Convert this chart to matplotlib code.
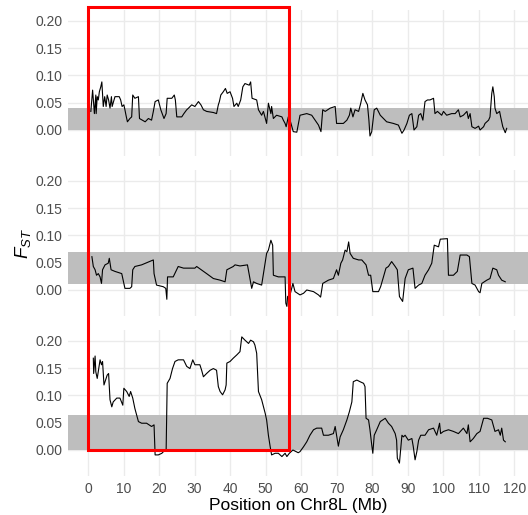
import matplotlib
matplotlib.use("Agg")
import matplotlib.pyplot as plt
from matplotlib.patches import Rectangle

plt.rcParams['font.family'] = ['Liberation Sans', 'DejaVu Sans']
plt.rcParams['mathtext.fontset'] = 'custom'
plt.rcParams['mathtext.it'] = 'Liberation Sans:italic'
plt.rcParams['mathtext.rm'] = 'Liberation Sans'

# ---- data (Mb, FST) ----
pos1 = [0.8, 1.3, 1.8, 2.2, 2.3, 2.6, 2.9, 3.2, 3.6, 3.9, 4.3, 4.7, 5.1, 5.4, 5.8, 6.2, 6.6, 6.8, 7.6, 8.8,
        9.2, 9.6, 10.1, 10.4, 10.7, 11.1, 11.8, 12.3, 12.6, 13.2, 14.2, 14.5, 16.1, 17.0, 17.9, 18.4, 18.9, 19.8,
        20.5, 21.4, 22.0, 22.3, 23.6, 24.3, 24.6, 25.0, 26.4, 27.0, 27.8, 28.3, 29.2, 30.1, 31.1, 31.8, 32.5,
        33.4, 35.3, 36.2, 36.7, 37.0, 37.4, 38.1, 38.7, 39.2, 40.0, 40.7, 41.1, 41.9, 42.3, 43.0, 43.6, 44.2,
        45.4, 45.8, 46.2, 47.5, 48.0, 48.9, 49.4, 50.3, 50.8, 51.5, 51.7, 52.2, 53.1, 54.6, 55.0, 55.5, 55.8,
        56.4, 56.9, 57.8, 58.8, 59.7, 61.6, 63.0, 64.9, 65.6, 66.1, 66.8, 68.2, 69.6, 70.0, 71.9, 72.9, 73.6,
        74.0, 74.6, 75.2, 76.2, 76.8, 77.4, 78.0, 78.7, 79.1, 79.4, 79.9, 80.6, 81.3, 82.3, 83.2, 84.1, 86.0,
        87.4, 88.4, 89.0, 89.8, 90.5, 91.2, 91.8, 92.6, 93.1, 93.7, 94.3, 94.9, 95.6, 96.3, 97.3, 97.7, 98.4,
        99.6, 100.1, 101.0, 102.4, 103.4, 104.3, 104.8, 105.7, 106.7, 107.1, 107.6, 108.1, 109.0, 110.0, 110.4,
        111.4, 111.8, 112.8, 113.2, 113.7, 114.0, 114.4, 114.6, 115.1, 115.9, 116.2, 116.8, 117.5, 117.9]
fst1 = [0.034, 0.073, 0.030, 0.064, 0.030, 0.061, 0.055, 0.070, 0.079, 0.088, 0.043, 0.061, 0.043, 0.064, 0.055,
        0.040, 0.061, 0.043, 0.061, 0.061, 0.055, 0.043, 0.046, 0.037, 0.027, 0.015, 0.021, 0.024, 0.064, 0.058,
        0.061, 0.021, 0.015, 0.021, 0.018, 0.034, 0.052, 0.055, 0.037, 0.021, 0.030, 0.058, 0.058, 0.064, 0.055,
        0.024, 0.024, 0.030, 0.037, 0.040, 0.046, 0.043, 0.052, 0.046, 0.037, 0.034, 0.032, 0.030, 0.046, 0.052,
        0.064, 0.070, 0.076, 0.067, 0.070, 0.058, 0.043, 0.049, 0.043, 0.055, 0.079, 0.085, 0.082, 0.088, 0.058,
        0.055, 0.037, 0.027, 0.034, 0.012, 0.049, 0.030, 0.043, 0.021, 0.027, 0.024, 0.018, 0.012, 0.006, 0.024,
        0.018, -0.003, -0.004, 0.027, 0.030, 0.027, 0.009, -0.003, 0.037, 0.034, 0.040, 0.043, 0.012, 0.012,
        0.018, 0.027, 0.040, 0.024, 0.037, 0.034, 0.049, 0.067, 0.055, 0.046, 0.018, -0.011, -0.003, 0.037,
        0.040, 0.027, 0.021, 0.015, 0.012, 0.009, -0.006, 0.000, 0.012, 0.027, 0.030, 0.000, 0.006, 0.027, 0.030,
        0.018, 0.052, 0.055, 0.055, 0.058, 0.030, 0.034, 0.027, 0.034, 0.027, 0.030, 0.030, 0.037, 0.024, 0.027,
        0.034, 0.021, 0.030, 0.006, 0.003, 0.007, 0.000, 0.006, 0.012, 0.018, 0.024, 0.067, 0.079, 0.061, 0.040,
        0.030, 0.034, 0.024, 0.006, -0.005, 0.003]

pos2 = [1.1, 1.5, 2.0, 2.4, 2.9, 3.4, 3.8, 4.1, 4.8, 5.7, 6.0, 6.5, 7.6, 9.5, 10.4, 11.8, 12.3, 12.6, 13.2, 15.1,
        18.4, 18.6, 19.3, 21.2, 21.9, 22.2, 22.4, 24.0, 25.4, 26.9, 30.1, 30.6, 33.4, 35.3, 37.2, 38.6, 39.1,
        40.9, 41.4, 42.8, 44.9, 46.1, 46.6, 47.5, 48.9, 50.3, 50.8, 51.5, 52.0, 52.2, 53.6, 55.5, 55.7, 56.0,
        56.2, 56.9, 57.7, 58.3, 59.7, 60.7, 61.6, 63.5, 64.9, 65.5, 66.1, 67.7, 69.1, 70.0, 70.5, 71.2, 71.7,
        72.4, 72.9, 73.4, 73.8, 74.7, 76.2, 77.1, 78.3, 79.0, 79.6, 80.2, 81.8, 82.4, 83.2, 83.9, 84.6, 85.5,
        86.5, 87.1, 87.7, 88.6, 89.3, 90.2, 91.5, 92.1, 93.1, 94.0, 94.9, 95.9, 96.8, 97.5, 98.7, 99.2, 101.2,
        101.5, 102.9, 104.0, 104.8, 106.7, 107.4, 108.1, 109.0, 110.0, 110.4, 110.9, 112.3, 113.2, 114.0,
        115.1, 115.6, 116.5, 117.5]
fst2 = [0.061, 0.043, 0.037, 0.027, 0.030, 0.024, 0.012, 0.037, 0.046, 0.049, 0.058, 0.037, 0.034, 0.030, 0.003,
        0.003, 0.006, 0.037, 0.043, 0.046, 0.055, 0.030, 0.009, 0.006, 0.003, -0.017, 0.024, 0.024, 0.043, 0.040,
        0.040, 0.043, 0.030, 0.021, 0.018, 0.015, 0.037, 0.043, 0.046, 0.044, 0.046, 0.003, 0.015, 0.012, 0.009,
        0.067, 0.073, 0.091, 0.082, 0.027, 0.024, 0.024, -0.024, -0.030, -0.012, -0.009, 0.012, -0.003, -0.009,
        -0.006, 0.000, -0.003, -0.009, -0.013, 0.012, 0.018, 0.021, 0.037, 0.027, 0.049, 0.055, 0.073, 0.070,
        0.088, 0.067, 0.058, 0.055, 0.055, 0.046, 0.027, 0.027, -0.003, -0.003, 0.006, 0.024, 0.040, 0.043,
        0.052, 0.043, 0.037, -0.012, -0.021, 0.021, 0.037, 0.040, 0.003, 0.009, 0.012, 0.027, 0.037, 0.049,
        0.082, 0.079, 0.093, 0.094, 0.027, 0.027, 0.034, 0.064, 0.064, 0.061, 0.012, 0.009, -0.003, -0.005,
        0.012, 0.018, 0.021, 0.040, 0.037, 0.027, 0.018, 0.015]

pos3 = [1.5, 1.6, 2.0, 2.2, 2.6, 3.4, 3.8, 4.1, 4.5, 5.1, 5.4, 5.8, 6.2, 6.7, 7.1, 8.1, 9.0, 9.8, 10.1, 10.9,
        11.6, 12.0, 12.6, 13.0, 13.2, 13.7, 14.2, 15.1, 16.5, 17.9, 18.6, 18.9, 19.8, 20.8, 21.4, 22.0, 22.3,
        23.1, 23.8, 24.5, 25.4, 26.9, 27.8, 28.7, 29.5, 30.1, 31.5, 32.0, 32.5, 33.4, 34.4, 35.3, 36.2, 36.7,
        37.2, 37.9, 38.6, 38.9, 39.1, 40.0, 40.9, 41.9, 42.8, 43.3, 44.2, 45.2, 45.8, 46.6, 47.0, 47.5, 48.0,
        48.9, 49.9, 50.3, 50.8, 51.3, 51.7, 52.7, 53.6, 54.6, 55.5, 56.0, 56.7, 57.7, 58.6, 59.2, 59.7, 60.7,
        61.6, 62.5, 63.5, 64.4, 65.8, 66.3, 67.7, 69.1, 69.6, 70.0, 70.5, 71.0, 71.9, 72.9, 73.6, 74.3, 74.7,
        75.7, 76.6, 77.6, 78.0, 78.3, 79.0, 79.4, 79.9, 80.2, 80.6, 81.3, 82.3, 83.7, 84.6, 85.5, 86.5, 86.9,
        87.1, 87.7, 88.4, 88.8, 89.3, 90.2, 91.2, 91.6, 92.1, 92.6, 93.1, 93.7, 94.9, 95.9, 97.3, 98.2, 99.0,
        99.3, 100.1, 101.5, 102.9, 104.3, 105.7, 106.7, 107.1, 107.6, 108.5, 109.5, 110.4, 111.4, 112.5, 113.7,
        114.2, 114.6, 115.6, 116.1, 116.5, 117.0, 117.5]
fst3 = [0.168, 0.140, 0.172, 0.143, 0.131, 0.165, 0.156, 0.162, 0.119, 0.131, 0.137, 0.140, 0.092, 0.079, 0.088,
        0.095, 0.095, 0.082, 0.113, 0.107, 0.098, 0.107, 0.095, 0.082, 0.076, 0.064, 0.052, 0.049, 0.049, 0.043,
        0.046, -0.009, -0.009, -0.006, -0.002, -0.002, 0.122, 0.131, 0.149, 0.162, 0.165, 0.165, 0.153, 0.149,
        0.165, 0.156, 0.156, 0.146, 0.134, 0.140, 0.146, 0.149, 0.146, 0.116, 0.107, 0.101, 0.110, 0.119, 0.159,
        0.162, 0.168, 0.174, 0.180, 0.207, 0.201, 0.195, 0.201, 0.198, 0.192, 0.177, 0.107, 0.092, 0.067, 0.055,
        0.027, 0.006, -0.009, -0.006, -0.006, -0.012, -0.006, -0.012, -0.006, 0.000, -0.003, -0.005, -0.003,
        0.006, 0.015, 0.027, 0.037, 0.040, 0.040, 0.027, 0.027, 0.030, 0.043, 0.027, 0.007, 0.024, 0.037, 0.055,
        0.070, 0.088, 0.125, 0.128, 0.125, 0.122, 0.116, 0.058, 0.055, 0.037, 0.009, -0.006, 0.027, 0.037,
        0.052, 0.058, 0.049, 0.043, 0.030, 0.018, -0.015, -0.024, 0.027, 0.024, 0.027, 0.018, 0.021, 0.006,
        -0.018, -0.003, 0.018, 0.027, 0.027, 0.037, 0.040, 0.027, 0.049, 0.030, 0.034, 0.037, 0.034, 0.030,
        0.040, 0.030, 0.046, 0.015, 0.021, 0.030, 0.034, 0.058, 0.058, 0.055, 0.043, 0.034, 0.037, 0.027, 0.040,
        0.018, 0.015]

positions = [pos1, pos2, pos3]
fst_values = [fst1, fst2, fst3]
band_low = [0.0, 0.011, 0.0]
band_high = [0.041, 0.069, 0.064]
highlight_start = 0.0
highlight_end = 56.5
x_ticks = list(range(0, 121, 10))
y_ticks = [0.00, 0.05, 0.10, 0.15, 0.20]

# ---- figure ----
fig = plt.figure(figsize=(5.28, 5.15), dpi=100)
W, H = 528, 515
left = 68 / W
width = 1 - left
panel_tops = [10, 170, 330]
panel_h = 146
axes = []
for i in range(3):
    bottom = 1 - (panel_tops[i] + panel_h) / H
    ax = fig.add_axes([left, bottom, width, panel_h / H])
    axes.append(ax)
    ax.set_facecolor('white')
    for s in ax.spines.values():
        s.set_visible(False)
    ax.set_xlim(-5.63, 123.9)
    ax.set_ylim(-0.0476, 0.2196)
    ax.set_xticks(x_ticks)
    ax.set_yticks(y_ticks)
    ax.set_yticklabels([f"{v:.2f}" for v in y_ticks])
    ax.grid(True, color='#EBEBEB', linewidth=1.0, zorder=0)
    ax.set_axisbelow(True)
    ax.tick_params(length=0, labelsize=10, colors='#4D4D4D', pad=4)
    ax.axhspan(band_low[i], band_high[i], color='#BEBEBE', lw=0, zorder=1)
    ax.plot(positions[i], fst_values[i], color='black', lw=0.8, zorder=2)
    if i < 2:
        ax.tick_params(labelbottom=False)

axes[2].set_xlabel('Position on Chr8L (Mb)', fontsize=12.5, color='black', labelpad=2)
fig.text(23 / W, 1 - 243 / H, r'$F_{ST}$', rotation=90, fontsize=13.5, ha='center', va='center')

# red highlight rectangle spanning all panels
inv = fig.transFigure.inverted()
x0, y1 = inv.transform(axes[0].transData.transform((highlight_start, 0.2245)))
x1, y0 = inv.transform(axes[2].transData.transform((highlight_end, 0.0)))
rect = Rectangle((x0, y0), x1 - x0, y1 - y0, transform=fig.transFigure,
                 fill=False, edgecolor='#FF0000', linewidth=2.2, zorder=10)
fig.patches.append(rect)

fig.savefig('out.png', dpi=100)
